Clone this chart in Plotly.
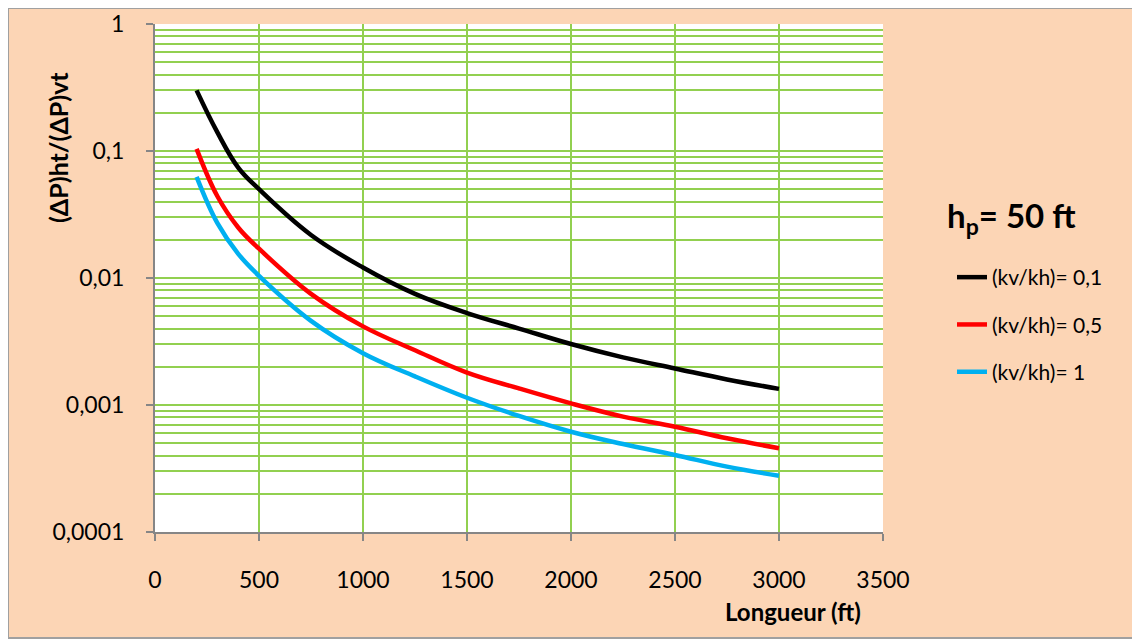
import plotly.graph_objects as go

longueur = [200, 300, 400, 500, 750, 1000, 1250, 1500, 1750, 2000, 2250, 2500, 2750, 3000]
kv_01 = [0.30, 0.14, 0.074, 0.050, 0.0218, 0.0121, 0.0075, 0.0053, 0.0040, 0.00302, 0.00237, 0.00194, 0.00159, 0.00134]
kv_05 = [0.104, 0.044, 0.025, 0.017, 0.0075, 0.00416, 0.0027, 0.0018, 0.00135, 0.00103, 0.00081, 0.000675, 0.000547, 0.000456]
kv_1 = [0.0625, 0.027, 0.0155, 0.0104, 0.0046, 0.00256, 0.00168, 0.00114, 0.00082, 0.000616, 0.000493, 0.000404, 0.000327, 0.000277]

series_names = ["(kv/kh)= 0,1", "(kv/kh)= 0,5", "(kv/kh)= 1"]
series_colors = ["#000000", "#FF0000", "#00B0F0"]

y_tickvals = [0.0001, 0.001, 0.01, 0.1, 1]
y_ticktext = ["0,0001", "0,001", "0,01", "0,1", "1"]
y_minor = [m * 10 ** e for e in range(-4, 0) for m in range(2, 10)]
x_tickvals = [0, 500, 1000, 1500, 2000, 2500, 3000, 3500]

FONT = "Lato"
GREEN = "#92D050"
GREY = "#868686"

fig = go.Figure()
for i, (vals, name, col) in enumerate(zip([kv_01, kv_05, kv_1], series_names, series_colors)):
    fig.add_trace(go.Scatter(
        x=longueur, y=vals, mode="lines", name=name,
        line=dict(color=col, width=4.5, shape="spline", smoothing=1.1),
        legendgroup=f"g{i}",
    ))

# figure is drawn at an 8px page offset (body margin)
OFF = 8
W, H = 1140 - OFF, 639 - OFF
L, T = 155 - OFF, 24 - OFF
R = W - (883 - OFF)
B = H - (532 - OFF)
pw, ph = W - L - R, H - T - B

def px_x(px):
    return (px - OFF - L) / pw

def px_y(py):
    return (H - B - (py - OFF)) / ph

ann_common = dict(xref="paper", yref="paper", xanchor="center", yanchor="middle", showarrow=False)

fig.update_layout(
    width=W, height=H,
    margin=dict(l=L, r=R, t=T, b=B, autoexpand=False),
    paper_bgcolor="#FCD5B5",
    plot_bgcolor="#FFFFFF",
    font=dict(family=FONT, size=23, color="#000000"),
    showlegend=True,
    legend=dict(
        x=px_x(952), y=px_y(257), xanchor="left", yanchor="top",
        bgcolor="rgba(0,0,0,0)", font=dict(size=21, family=FONT),
        traceorder="grouped", tracegroupgap=17,
    ),
    xaxis=dict(
        range=[0, 3500], tickvals=x_tickvals, ticktext=[str(v) for v in x_tickvals],
        showgrid=True, gridcolor=GREEN, gridwidth=2,
        showline=True, linecolor=GREY, linewidth=2,
        ticks="outside", ticklen=7, tickcolor=GREY, tickwidth=2,
        ticklabelstandoff=19, zeroline=False, automargin=False,
    ),
    yaxis=dict(
        type="log", range=[-4, 0], tickvals=y_tickvals, ticktext=y_ticktext,
        showgrid=True, gridcolor=GREEN, gridwidth=2,
        showline=True, linecolor=GREY, linewidth=2,
        ticks="outside", ticklen=7, tickcolor=GREY, tickwidth=2,
        ticklabelstandoff=17, zeroline=False, automargin=False,
        minor=dict(tickvals=y_minor, showgrid=True, gridcolor=GREEN, gridwidth=2, ticks=""),
    ),
    annotations=[
        dict(text="<b>(ΔP)ht/(ΔP)vt</b>", x=px_x(58), y=px_y(148), textangle=-90,
             font=dict(size=25, family=FONT), **ann_common),
        dict(text="<b>Longueur (ft)</b>", x=px_x(793), y=px_y(611),
             font=dict(size=24, family=FONT), **ann_common),
        dict(text="<b>h<sub>p</sub>= 50 ft</b>", x=px_x(1011), y=px_y(217),
             font=dict(size=33, family=FONT), **ann_common),
    ],
    shapes=[
        dict(type="rect", xref="paper", yref="paper",
             x0=px_x(OFF), x1=px_x(1139), y0=px_y(638), y1=px_y(OFF),
             line=dict(color="#A0A0A0", width=2), layer="below"),
    ],
)

fig.write_html("out.html")
